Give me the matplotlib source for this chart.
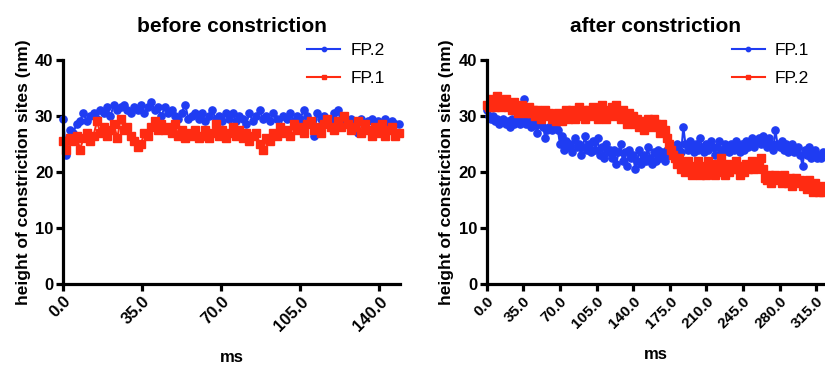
import numpy as np
import matplotlib
matplotlib.use("Agg")
import matplotlib.pyplot as plt
import matplotlib.ticker as ticker

plt.rcParams['font.family'] = ['Liberation Sans', 'DejaVu Sans']

BLUE = '#1f3cf2'
RED = '#ff2b12'

# before constriction, sampled every 1.5 ms
t_before = np.arange(100) * 1.5
before_fp2 = [29.5, 23.0, 27.5, 27.0, 28.5, 29.0, 30.5, 29.0, 30.0, 30.5,
              29.5, 31.0, 30.5, 31.5, 30.0, 32.0, 31.0, 31.5, 32.0, 31.0,
              30.5, 31.5, 31.0, 32.0, 30.5, 31.5, 32.5, 31.0, 31.5, 30.0,
              31.5, 30.5, 31.0, 30.0, 29.5, 30.5, 32.0, 29.5, 30.0, 30.5,
              29.5, 30.5, 29.0, 30.0, 31.0, 29.5, 30.0, 29.0, 30.5, 29.5,
              30.5, 29.0, 30.0, 29.5, 28.5, 30.5, 29.0, 30.0, 31.0, 29.5,
              30.0, 29.0, 30.5, 29.5, 28.0, 30.0, 29.5, 30.5, 29.0, 30.0,
              29.5, 31.0, 30.0, 29.0, 26.5, 30.5, 29.5, 30.0, 28.5, 29.5,
              30.5, 31.0, 29.0, 30.0, 28.5, 29.5, 28.0, 27.0, 29.5, 28.5,
              29.0, 29.5, 28.0, 29.0, 28.5, 29.5, 28.5, 29.0, 28.5, 28.5]
before_fp1 = [25.5, 24.0, 26.0, 25.5, 26.5, 24.0, 26.0, 27.0, 25.5, 26.5,
              29.0, 27.0, 28.0, 26.5, 27.5, 28.5, 26.0, 29.5, 27.5, 28.0,
              26.5, 25.5, 24.5, 25.0, 27.0, 26.5, 28.0, 29.0, 27.5, 28.5,
              27.5, 28.0, 27.0, 28.5, 26.5, 27.5, 26.0, 27.0, 26.5, 27.5,
              26.0, 26.5, 27.5, 26.0, 27.0, 28.5, 26.5, 27.5, 26.0, 27.0,
              28.0, 26.5, 27.5, 26.0, 27.0, 25.5, 26.5, 27.0, 25.0, 24.0,
              26.0, 25.5, 27.0, 26.5, 28.0, 27.0, 27.5, 26.5, 28.5, 27.5,
              28.0, 27.0, 28.5, 29.0, 27.5, 28.0, 27.0, 28.5, 29.5, 28.0,
              27.5, 29.0, 28.0, 30.0, 28.5, 27.5, 28.0, 29.0, 27.0, 28.5,
              27.5, 26.5, 28.0, 27.0, 28.5, 26.5, 27.5, 28.0, 26.5, 27.0]

# after constriction, sampled every 2 ms
t_after = np.arange(162) * 2.0
after_fp1 = [31.0, 30.0, 29.5, 30.0, 29.0, 29.5, 28.5, 29.0, 29.5, 28.5,
             29.0, 28.0, 29.5, 28.5, 29.0, 30.0, 28.5, 29.0, 33.0, 28.5,
             29.0, 28.0, 29.5, 28.5, 27.0, 28.5, 29.0, 28.0, 26.0, 27.5,
             28.0, 27.5, 28.5, 28.0, 27.5, 25.0, 26.5, 24.0, 25.5, 24.5,
             25.0, 23.5, 26.0, 24.5, 25.0, 23.0, 24.5, 26.5, 24.0, 25.0,
             23.5, 25.5, 24.0, 26.0, 23.0, 24.5, 22.5, 25.0, 23.5, 24.0,
             22.5, 24.0, 21.5, 23.5, 25.0, 22.0, 23.5, 21.0, 24.0, 22.5,
             23.0, 20.5, 22.0, 24.0, 21.5, 23.0, 22.0, 24.5, 22.5, 21.5,
             23.5, 22.0, 24.0, 22.5, 23.5, 22.0, 24.0, 23.0, 24.5, 23.5,
             24.0, 25.0, 24.0, 23.5, 28.0, 25.0, 24.0, 25.5, 24.5, 23.5,
             25.0, 24.0, 26.0, 24.5, 23.5, 25.0, 24.0, 25.5, 24.5, 23.0,
             24.5, 25.5, 24.0, 23.5, 25.0, 24.5, 23.5, 25.0, 24.0, 25.5,
             24.5, 23.5, 25.0, 24.0, 25.5, 24.5, 25.0, 26.0, 24.5, 25.5,
             26.0, 25.0, 26.5, 25.5, 24.5, 26.0, 25.0, 24.0, 27.5, 25.0,
             24.5, 25.5, 24.0, 25.0, 23.5, 24.5, 25.0, 23.5, 24.0, 24.5,
             23.0, 21.0, 24.0, 23.0, 24.5, 22.5, 23.5, 24.0, 22.5, 23.0,
             22.5, 23.5]
after_fp2 = [32.0, 31.5, 33.0, 32.0, 31.5, 33.5, 32.5, 31.5, 32.0, 33.0,
             31.5, 32.0, 31.0, 32.5, 31.5, 30.5, 31.5, 32.0, 31.0, 30.5,
             31.5, 30.5, 31.0, 30.0, 31.0, 30.5, 29.5, 30.5, 31.0, 30.0,
             30.5, 29.5, 30.0, 29.0, 30.5, 30.0, 29.0, 30.0, 31.0, 29.5,
             30.0, 31.0, 29.5, 30.5, 31.5, 30.0, 31.0, 29.5, 30.5, 31.0,
             30.0, 31.5, 30.5, 29.5, 31.0, 32.0, 30.5, 29.5, 31.0, 30.5,
             31.5, 30.0, 32.0, 30.5, 29.5, 31.0, 30.0, 28.5, 30.5, 29.5,
             30.0, 28.5, 29.5, 28.0, 29.0, 27.5, 28.5, 29.5, 28.0, 29.0,
             29.5, 28.5, 28.0, 27.0, 28.5, 27.5, 26.0, 25.0, 24.0, 23.0,
             22.5, 21.5, 22.5, 20.5, 21.5, 20.0, 22.0, 20.5, 19.5, 21.0,
             20.0, 22.0, 19.5, 21.0, 20.5, 19.5, 22.0, 20.5, 21.5, 19.5,
             21.0, 20.0, 22.5, 20.5, 19.5, 21.5, 20.0, 21.0, 20.5, 22.0,
             20.5, 19.5, 21.0, 20.0, 21.5, 20.5, 21.0, 22.0, 20.5, 21.5,
             21.0, 22.5, 20.5, 19.0, 18.5, 19.5, 18.0, 19.0, 19.5, 18.5,
             19.0, 18.0, 19.5, 18.5, 18.0, 19.0, 17.5, 18.5, 19.0, 18.0,
             18.5, 17.5, 18.0, 17.0, 18.5, 17.5, 16.5, 18.0, 17.0, 16.5,
             17.5, 16.5]

before_ticks = [0, 35, 70, 105, 140]
after_ticks = [0, 35, 70, 105, 140, 175, 210, 245, 280, 315]


def style_axes(ax, xmax, xticks, title, xlabelsize):
    ax.set_xlim(0, xmax)
    ax.set_ylim(0, 40)
    ax.set_xticks(xticks)
    ax.xaxis.set_major_formatter(ticker.FormatStrFormatter('%.1f'))
    ax.yaxis.set_major_locator(ticker.MultipleLocator(10))
    for s in ['top', 'right']:
        ax.spines[s].set_visible(False)
    for s in ['left', 'bottom']:
        ax.spines[s].set_linewidth(2.3)
    ax.tick_params(direction='out', length=5, width=2.3, labelsize=12, pad=2)
    ax.tick_params(axis='x', labelsize=xlabelsize)
    for lab in ax.get_xticklabels():
        lab.set_rotation(45)
        lab.set_ha('right')
        lab.set_rotation_mode('anchor')
        lab.set_fontweight('bold')
    for lab in ax.get_yticklabels():
        lab.set_fontweight('bold')
    ax.set_title(title, fontsize=15, fontweight='bold', pad=20)
    ax.set_xlabel('ms', fontsize=12, fontweight='bold', labelpad=12)
    ax.set_ylabel('height of constriction sites (nm)', fontsize=12.5,
                  fontweight='bold', labelpad=3)
    ax.legend(loc='upper right', bbox_to_anchor=(1.0, 1.145), frameon=False,
              fontsize=12.5, handlelength=1.9, labelspacing=0.75,
              handletextpad=0.6, markerscale=0.6)


fig = plt.figure(figsize=(8.25, 3.67), dpi=100)
ax1 = fig.add_axes([0.0764, 0.226, 0.409, 0.611])
ax2 = fig.add_axes([0.590, 0.226, 0.410, 0.611])

mk = dict(markersize=5.2, lw=1.5, clip_on=False)
ax1.plot(t_before, before_fp2, color=BLUE, marker='o', label='FP.2', **mk)
ax1.plot(t_before, before_fp1, color=RED, marker='s', label='FP.1', **mk)
style_axes(ax1, 149.3, before_ticks, 'before constriction', 12)

ax2.plot(t_after, after_fp1, color=BLUE, marker='o', label='FP.1', **mk)
ax2.plot(t_after, after_fp2, color=RED, marker='s', label='FP.2', **mk)
style_axes(ax2, 323.5, after_ticks, 'after constriction', 11)

fig.savefig('out.png', dpi=100)
